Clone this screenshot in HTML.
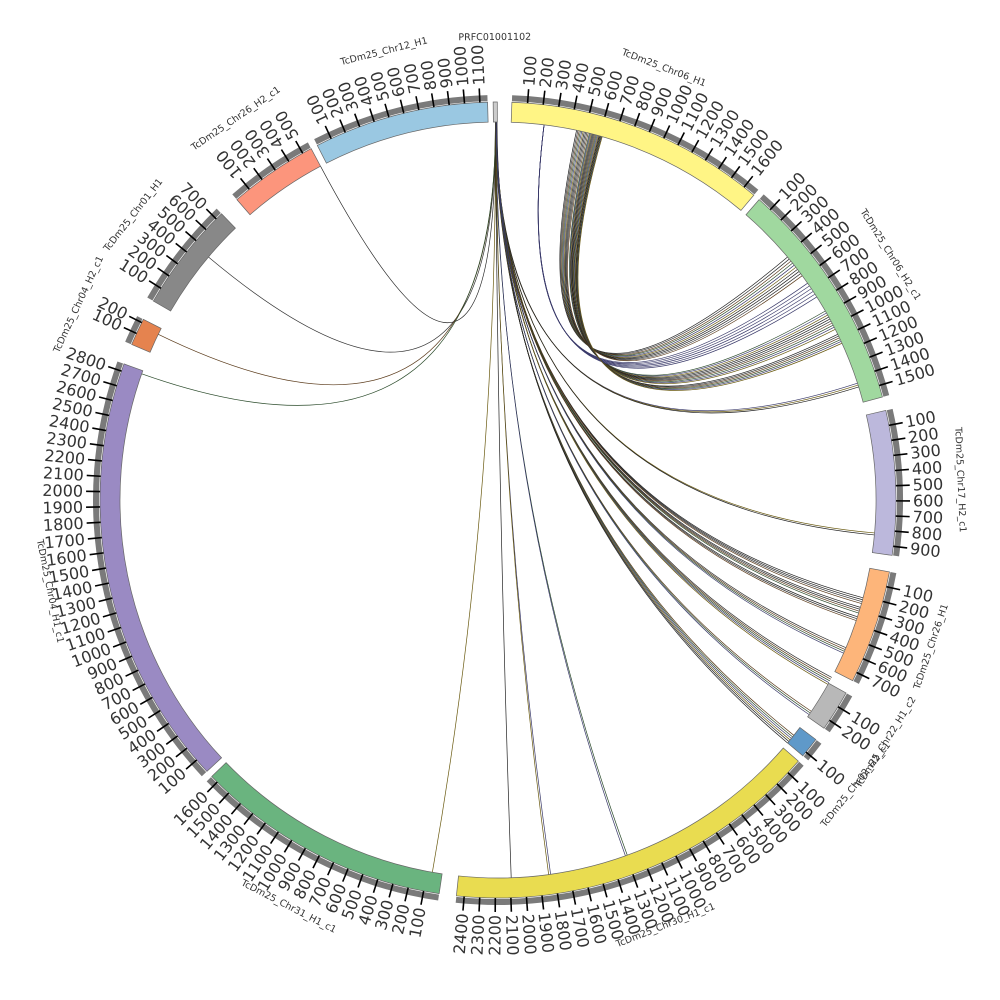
<!DOCTYPE html>
<html><head><meta charset="utf-8"><style>
html,body{margin:0;padding:0;background:#fff;width:1000px;height:1000px;overflow:hidden}
svg{display:block}
</style></head><body>
<svg id="s" xmlns="http://www.w3.org/2000/svg" width="1000" height="1000" viewBox="0 0 1000 1000"></svg>
<script>
var S=document.getElementById('s'),NS='http://www.w3.org/2000/svg';
var cx=498,cy=500,R1=378,R2=398;
function pt(a,r){var t=a*Math.PI/180;return[cx+r*Math.sin(t),cy-r*Math.cos(t)];}
function el(n,at,txt){var e=document.createElementNS(NS,n);for(var k in at)e.setAttribute(k,at[k]);if(txt!=null)e.textContent=txt;S.appendChild(e);return e;}
function arc(a0,a1,r0,r1){var p=pt(a0,r1),q=pt(a1,r1),u=pt(a1,r0),v=pt(a0,r0),lg=(a1-a0)>180?1:0;
return 'M'+p+' A'+r1+','+r1+' 0 '+lg+' 1 '+q+' L'+u+' A'+r0+','+r0+' 0 '+lg+' 0 '+v+' Z';}
var segs=[
['TcDm25_Chr06_H1',2,40,1680,'#fff585',1600],
['TcDm25_Chr06_H2_c1',41,75,1580,'#a0d89f',1500],
['TcDm25_Chr17_H2_c1',77,98,960,'#bcb8dc',900],
['TcDm25_Chr26_H1',100.4,117,760,'#fdb57a',700],
['TcDm25_Chr22_H1_c2',119,125,260,'#b8b8b8',200],
['TcDm25_Chr02_H2_c1',127,130,130,'#5f99c9',100],
['TcDm25_Chr30_H1_c1',131,186,2450,'#e9dc50',2400],
['TcDm25_Chr31_H1_c1',188.5,226,1650,'#6ab47f',1600],
['TcDm25_Chr04_H1_c1',227,290,2850,'#9a8ac3',2800],
['TcDm25_Chr04_H2_c1',293,297,230,'#e5834f',200],
['TcDm25_Chr01_H1',300,316,750,'#888888',700],
['TcDm25_Chr26_H2_c1',319,332,560,'#fc957c',500],
['TcDm25_Chr12_H1',333,358.5,1150,'#9ac8e2',1100],
['PRFC01001102',359.3,359.9,20,'#cccccc',0]
];
var G=el('g',{fill:'none','stroke-width':'0.7'});
function link(a,b,col){var p=pt(a,R1),q=pt(b,R1);var e=document.createElementNS(NS,'path');
e.setAttribute('d','M'+p+' Q'+cx+','+cy+' '+q);e.setAttribute('stroke',col||'#333');G.appendChild(e);}
var cols=['#222','#333','#5a3a1a','#2a4a2a','#3a3a6a','#6a5a10','#222'];
var P=359.6;
var targets=[[332,1],[310,1],[296,1],[289.5,1],[72,3],[95,2],[105,4],[106.5,4],[118,5],[128.5,6],[160,2],[172,2],[190,1],[178,1],[108,3],[113,4],[124,3]];
targets.forEach(function(t,i){for(var k=0;k<t[1];k++)link(P+k*0.05,t[0]+k*0.3,cols[(i+k)%cols.length]);});
for(var k=0;k<10;k++){link(12+k*0.2,50+k*0.4,cols[k%7]);link(14+k*0.15,60+k*0.35,cols[(k+3)%7]);}
for(var k=0;k<6;k++){link(7,(55+k*0.5),'#3a3a6a');link(15.5+k*0.1,64+k*0.3,cols[k%7]);}
segs.forEach(function(s){
 var a0=s[1],a1=s[2];
 el('path',{d:arc(a0,a1,R1,R2),fill:s[4],stroke:'#666','stroke-width':'0.7'});
 if(s[5]>0){
  el('path',{d:arc(a0,a1,R2+1,R2+7),fill:'#7a7a7a'});
  for(var v=100;v<=s[5];v+=100){
   var a=a0+(v/s[3])*(a1-a0),p=pt(a,R2),q=pt(a,R2+14),l=pt(a,R2+17);
   el('line',{x1:p[0],y1:p[1],x2:q[0],y2:q[1],stroke:'#000','stroke-width':'1.6'});
   var flip=(a>180&&a<315);
   var rot=flip?a+90:a-90;
   el('text',{x:l[0],y:l[1],transform:'rotate('+rot+' '+l[0]+' '+l[1]+')','text-anchor':flip?'end':'start','dominant-baseline':'central','font-size':'16','font-family':'DejaVu Sans, Liberation Sans, sans-serif',fill:'#333'},String(v));
  }
 }
 var m=(a0+a1)/2,rr=R2+62,lp=pt(m,rr);
 var r2=(m>90&&m<270)?m+180:m;
 el('text',{x:lp[0],y:lp[1],transform:'rotate('+r2+' '+lp[0]+' '+lp[1]+')','text-anchor':'middle','font-size':'9.5','font-family':'DejaVu Sans, Liberation Sans, sans-serif',fill:'#333'},s[0]);
});
</script>
</body></html>
